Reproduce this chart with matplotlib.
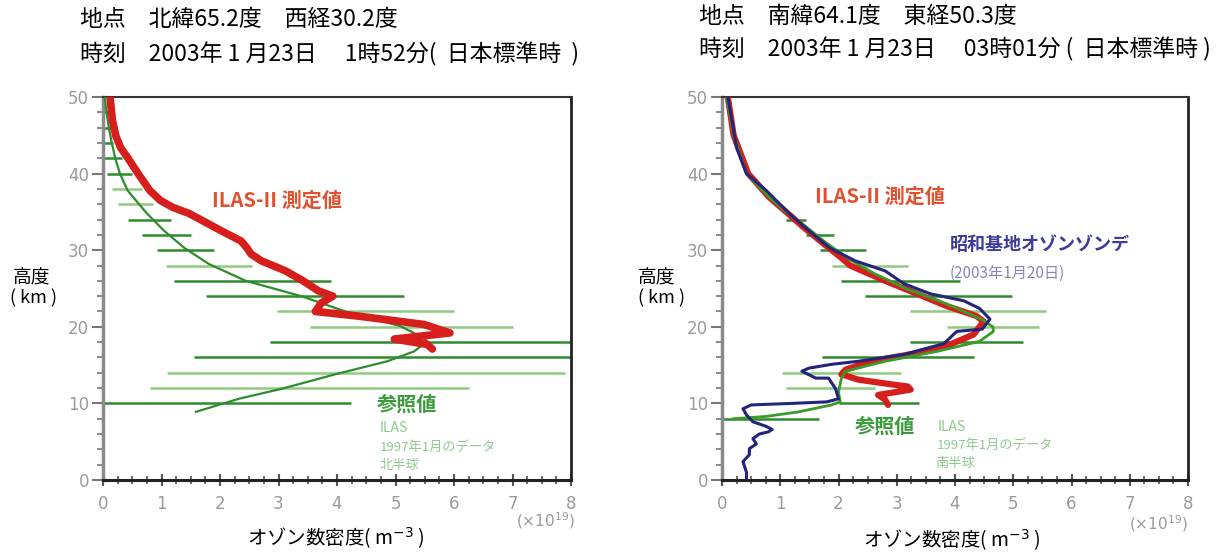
import matplotlib
matplotlib.use("Agg")
import matplotlib.pyplot as plt
from matplotlib.ticker import MultipleLocator

plt.rcParams['font.family'] = ['Noto Sans CJK JP', 'DejaVu Sans']

# ---- left panel (north, 65.2N 30.2W) ----
n_ilas2_h = [50, 47, 44.9, 43.4, 42.1, 40.0, 37.8, 36.5, 35.6, 34.8, 33.9, 32.5, 31.2, 30.3, 29.5,
             28.6, 27.3, 26.0, 24.7, 24.0, 23.1, 22.0, 21.4, 20.3, 19.2, 18.4, 17.7, 17.1]
n_ilas2_x = [0.12, 0.16, 0.22, 0.3, 0.42, 0.6, 0.8, 0.98, 1.19, 1.47, 1.69, 2.03, 2.36, 2.46, 2.53,
             2.71, 3.12, 3.42, 3.68, 3.93, 3.73, 3.63, 4.36, 5.49, 5.93, 4.98, 5.54, 5.63]

n_ref_h = [50, 48, 46, 44, 42, 40, 37.8, 34.8, 32.5, 30.3, 28.2, 26, 24, 22, 20.1, 18.5, 18.1,
           16.8, 15.5, 13.8, 11.9, 10.6, 8.9]
n_ref_x = [0.03, 0.06, 0.1, 0.15, 0.21, 0.29, 0.42, 0.75, 1.05, 1.39, 1.81, 2.44, 3.39, 4.14, 5.08,
           5.49, 5.54, 5.32, 4.86, 3.97, 3.05, 2.32, 1.59]

n_bar_h = [48, 46, 44, 42, 40, 38, 36, 34, 32, 30, 28, 26, 24, 22, 20, 18, 16, 14, 12, 10]
n_bar_lo = [0.0, 0.0, 0.0, 0.0, 0.07, 0.15, 0.25, 0.42, 0.66, 0.93, 1.08, 1.22, 1.76, 2.97, 3.54,
            2.86, 1.56, 1.1, 0.8, 0.0]
n_bar_hi = [0.1, 0.14, 0.17, 0.32, 0.49, 0.66, 0.85, 1.17, 1.51, 1.9, 2.54, 3.9, 5.15, 6.0, 7.0,
            8.0, 8.0, 7.9, 6.25, 4.24]
n_bar_dark = [1, 1, 1, 1, 1, 0, 0, 1, 1, 1, 0, 1, 1, 0, 0, 1, 1, 0, 0, 1]

# ---- right panel (south, 64.1S 50.3E) ----
s_sonde_h = [50, 43.4, 40, 37.8, 34.8, 32.5, 30.3, 28.6, 27.3, 25.6, 24.3, 23.4, 22.4, 21, 19.7,
             19.4, 17.8, 16.4, 15.5, 15.1, 14.6, 14.2, 13.3, 13.3, 11.9, 10.6, 10.2, 10, 9.8, 9.3,
             8.5, 7.6, 7.0, 6.6, 6.3, 6.0, 5.4, 4.7, 4.1, 3.3, 2.4, 1.0, 0.1]
s_sonde_x = [0.1, 0.25, 0.42, 0.76, 1.15, 1.5, 1.85, 2.29, 2.8, 3.13, 3.58, 4.15, 4.42, 4.6, 4.47,
             4.03, 3.81, 3.13, 2.34, 1.88, 1.49, 1.37, 1.61, 1.83, 1.95, 2.0, 1.8, 1.2, 0.5, 0.36,
             0.42, 0.53, 0.76, 0.86, 0.8, 0.64, 0.53, 0.59, 0.47, 0.47, 0.36, 0.42, 0.42]

s_ilas2_h = [50, 45, 40, 37, 35, 33, 31, 29, 28, 26, 24.3, 22.7, 21.4, 20.7, 19.0, 17.7, 16.5,
             15.5, 14.4, 13.8, 13.1, 12.6, 12.2, 11.8, 11.1, 10.5, 9.8]
s_ilas2_x = [0.1, 0.2, 0.45, 0.8, 1.1, 1.4, 1.72, 2.05, 2.2, 2.8, 3.35, 3.86, 4.37, 4.49, 4.32,
             3.92, 3.3, 2.56, 2.12, 2.05, 2.34, 2.8, 3.19, 3.24, 2.68, 2.8, 2.85]

s_ref_h = [50, 45, 40, 37, 35, 33, 31, 29, 27, 25, 23, 21, 20, 19.4, 18.1, 16.8, 15.5, 14.2, 13.3,
           11.5, 10.2, 9.8, 8.9, 8.3, 8.0]
s_ref_x = [0.08, 0.2, 0.42, 0.8, 1.1, 1.45, 1.78, 2.15, 2.6, 3.15, 3.85, 4.45, 4.65, 4.66, 4.42,
           3.7, 2.8, 2.12, 2.05, 2.0, 2.03, 1.88, 1.32, 0.76, 0.2]

s_bar_h = [34, 32, 30, 28, 26, 24, 22, 20, 18, 16, 14, 12, 10, 8]
s_bar_lo = [1.1, 1.44, 1.69, 1.88, 2.05, 2.45, 3.22, 3.86, 3.22, 1.71, 1.03, 1.1, 2.0, 0.0]
s_bar_hi = [1.44, 1.92, 2.47, 3.19, 4.08, 4.97, 5.56, 5.44, 5.17, 4.32, 3.07, 2.63, 3.39, 1.66]
s_bar_dark = [1, 1, 1, 0, 1, 1, 0, 0, 1, 1, 0, 0, 1, 1]

DARK_G = '#2f8a2f'
LIGHT_G = '#8fcc80'
RED = '#d61f1c'
NAVY = '#23247a'
TICK_GRAY = '#9a9a9a'
LABEL_RED = '#e2502f'
REF_GREEN = '#3c9c3c'
NOTE_GREEN = '#8ec98e'

W, H = 1226, 555
fig = plt.figure(figsize=(W / 100, H / 100), dpi=100)
axL = fig.add_axes([103 / W, 1 - 480 / H, 468 / W, 383 / H])
axR = fig.add_axes([722 / W, 1 - 480 / H, 466 / W, 383 / H])


def ftext(px, py, s, **kw):
    kw.setdefault('va', 'center')
    return fig.text(px / W, 1 - py / H, s, **kw)


def style_axis(ax):
    ax.set_xlim(0, 8)
    ax.set_ylim(0, 50)
    ax.xaxis.set_major_locator(MultipleLocator(1))
    ax.xaxis.set_minor_locator(MultipleLocator(0.25))
    ax.yaxis.set_major_locator(MultipleLocator(10))
    ax.yaxis.set_minor_locator(MultipleLocator(2))
    ax.tick_params(axis='x', which='major', direction='inout', length=9, width=1.5,
                   colors='#555555', labelcolor=TICK_GRAY, labelsize=12, pad=6)
    ax.tick_params(axis='x', which='minor', direction='inout', length=6, width=1.2, colors='#555555')
    ax.tick_params(axis='y', which='major', direction='out', length=8, width=1.5,
                   colors='#777777', labelcolor=TICK_GRAY, labelsize=12, pad=2)
    ax.tick_params(axis='y', which='minor', direction='out', length=4, width=1.2, colors='#777777')
    for lab in ax.get_xticklabels() + ax.get_yticklabels():
        lab.set_family('DejaVu Sans')
    ax.spines['left'].set_color('#8a8a8a')
    ax.spines['left'].set_linewidth(2.5)
    ax.spines['bottom'].set_color('#222222')
    ax.spines['bottom'].set_linewidth(2.2)
    ax.spines['top'].set_color('#333333')
    ax.spines['top'].set_linewidth(1.5)
    ax.spines['right'].set_color('#222222')
    ax.spines['right'].set_linewidth(2.0)


for ax in (axL, axR):
    style_axis(ax)

# left panel
for h, lo, hi, dk in zip(n_bar_h, n_bar_lo, n_bar_hi, n_bar_dark):
    axL.hlines(h, lo, hi, color=DARK_G if dk else LIGHT_G, lw=1.8, zorder=2)
axL.plot(n_ref_x, n_ref_h, color='#2e8c2e', lw=1.6, zorder=3)
axL.plot(n_ilas2_x, n_ilas2_h, color=RED, lw=5.5, solid_capstyle='round',
         solid_joinstyle='round', zorder=4)

# right panel
for h, lo, hi, dk in zip(s_bar_h, s_bar_lo, s_bar_hi, s_bar_dark):
    axR.hlines(h, lo, hi, color=DARK_G if dk else LIGHT_G, lw=1.8, zorder=2)
axR.plot(s_ilas2_x, s_ilas2_h, color=RED, lw=4.5, solid_capstyle='round',
         solid_joinstyle='round', zorder=3)
axR.plot(s_ref_x, s_ref_h, color='#3a9a2a', lw=2.0, zorder=4)
axR.plot(s_sonde_x, s_sonde_h, color=NAVY, lw=2.2, zorder=5)

# annotations (pixel positions)
ftext(212, 200, 'ILAS-II 測定値', color=LABEL_RED, fontsize=14.5, fontweight='bold')
ftext(377, 404, '参照値', color=REF_GREEN, fontsize=14.5, fontweight='bold')
ftext(380, 428, 'ILAS', color=NOTE_GREEN, fontsize=10)
ftext(380, 447, '1997年1月のデータ', color=NOTE_GREEN, fontsize=9.5)
ftext(380, 465, '北半球', color=NOTE_GREEN, fontsize=9.5)

ftext(815, 196, 'ILAS-II 測定値', color=LABEL_RED, fontsize=14.5, fontweight='bold')
ftext(950, 245, '昭和基地オゾンゾンデ', color='#3b3b9c', fontsize=13, fontweight='bold')
ftext(950, 273, '(2003年1月20日)', color='#8585bb', fontsize=11)
ftext(855, 426, '参照値', color=REF_GREEN, fontsize=14.5, fontweight='bold')
ftext(938, 427, 'ILAS', color=NOTE_GREEN, fontsize=10)
ftext(937, 445, '1997年1月のデータ', color=NOTE_GREEN, fontsize=9.5)
ftext(935, 463, '南半球', color=NOTE_GREEN, fontsize=9.5)

# headers
TS = 16.5
ftext(80, 19, '地点　北緯65.2度　西経30.2度', fontsize=TS)
ftext(80, 54, '時刻　2003年 1 月23日　 1時52分(  日本標準時  )', fontsize=TS)
ftext(699, 16, '地点　南緯64.1度　東経50.3度', fontsize=TS)
ftext(699, 49, '時刻　2003年 1 月23日　 03時01分 (  日本標準時 )', fontsize=TS)

# y labels
ftext(32, 278, '高度', fontsize=13.5, ha='center')
ftext(34, 298, '( km )', fontsize=13, ha='center')
ftext(657, 278, '高度', fontsize=13.5, ha='center')
ftext(662, 298, '( km )', fontsize=13, ha='center')

# x labels
ftext(336, 538, 'オゾン数密度( m$^{-3}$ )', fontsize=14, ha='center')
ftext(952, 540, 'オゾン数密度( m$^{-3}$ )', fontsize=14, ha='center')
ftext(545, 521, '(×10$^{19}$)', fontsize=11, color=TICK_GRAY, ha='center', family='DejaVu Sans')
ftext(1158, 524, '(×10$^{19}$)', fontsize=11, color=TICK_GRAY, ha='center', family='DejaVu Sans')

fig.savefig('out.png', dpi=100)
